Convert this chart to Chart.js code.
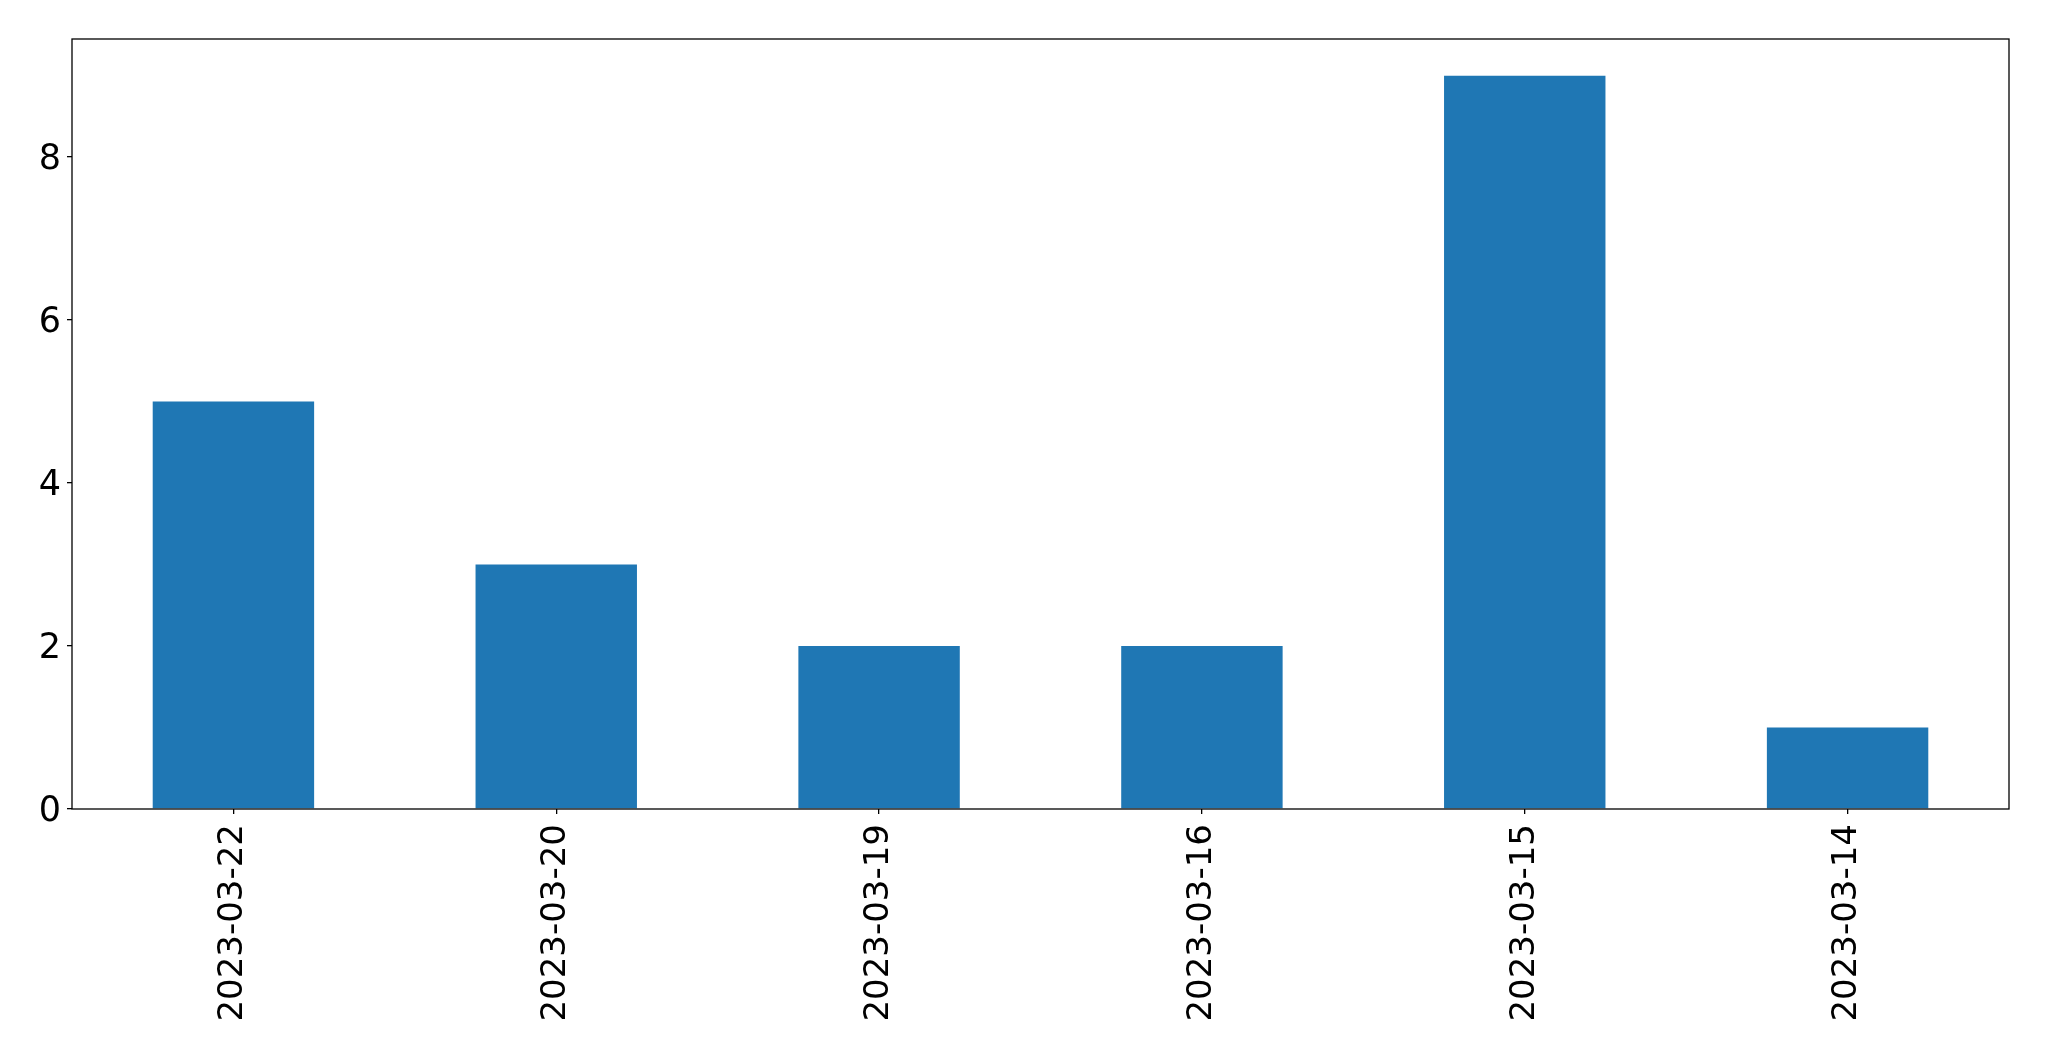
<!DOCTYPE html>
<html>
<head>
<meta charset="utf-8">
<script src="https://cdn.jsdelivr.net/npm/chart.js@4/dist/chart.umd.min.js"></script>
<style>
  body { margin: 0; background: #fff; }
  canvas { display: block; }
</style>
</head>
<body>
<canvas id="grafico" width="2049" height="1061"></canvas>
<script>
const datas = ["2023-03-22", "2023-03-20", "2023-03-19", "2023-03-16", "2023-03-15", "2023-03-14"];
const contagens = [5, 3, 2, 2, 9, 1];
const yTicks = [0, 2, 4, 6, 8];

// moldura em volta da área do gráfico (estilo matplotlib)
const moldura = {
  id: "moldura",
  afterDraw(chart) {
    const { ctx, chartArea: a } = chart;
    ctx.save();
    ctx.strokeStyle = "#000";
    ctx.lineWidth = 1.3;
    ctx.strokeRect(a.left, a.top, a.right - a.left, a.bottom - a.top);
    ctx.restore();
  }
};

Chart.defaults.font.family = "'DejaVu Sans', sans-serif";
Chart.defaults.color = "#000";

new Chart(document.getElementById("grafico").getContext("2d"), {
  type: "bar",
  data: {
    labels: datas,
    datasets: [{
      data: contagens,
      backgroundColor: "#1f77b4",
      borderWidth: 0,
      categoryPercentage: 1,
      barPercentage: 0.5
    }]
  },
  options: {
    responsive: false,
    animation: false,
    layout: { padding: { top: 39, right: 40, left: 0, bottom: 0 } },
    plugins: { legend: { display: false }, tooltip: { enabled: false } },
    scales: {
      x: {
        offset: true,
        grid: { display: true, drawOnChartArea: false, drawTicks: true, tickLength: 5, color: "#000", lineWidth: 1.3, offset: false },
        border: { display: false },
        ticks: { font: { size: 34 }, maxRotation: 90, minRotation: 90, padding: 10, color: "#000" },
        afterFit(scale) { scale.height = 252; }
      },
      y: {
        min: 0,
        max: 9.45,
        grid: { display: true, drawOnChartArea: false, drawTicks: true, tickLength: 5, color: "#000", lineWidth: 1.3 },
        border: { display: false },
        ticks: {
          font: { size: 35 },
          stepSize: 2,
          includeBounds: false,
          padding: 6,
          labelOffset: 3,
          color: "#000",
          callback: v => yTicks.includes(v) ? String(v) : ""
        },
        afterFit(scale) { scale.width = 72; }
      }
    }
  },
  plugins: [moldura]
});
</script>
</body>
</html>
